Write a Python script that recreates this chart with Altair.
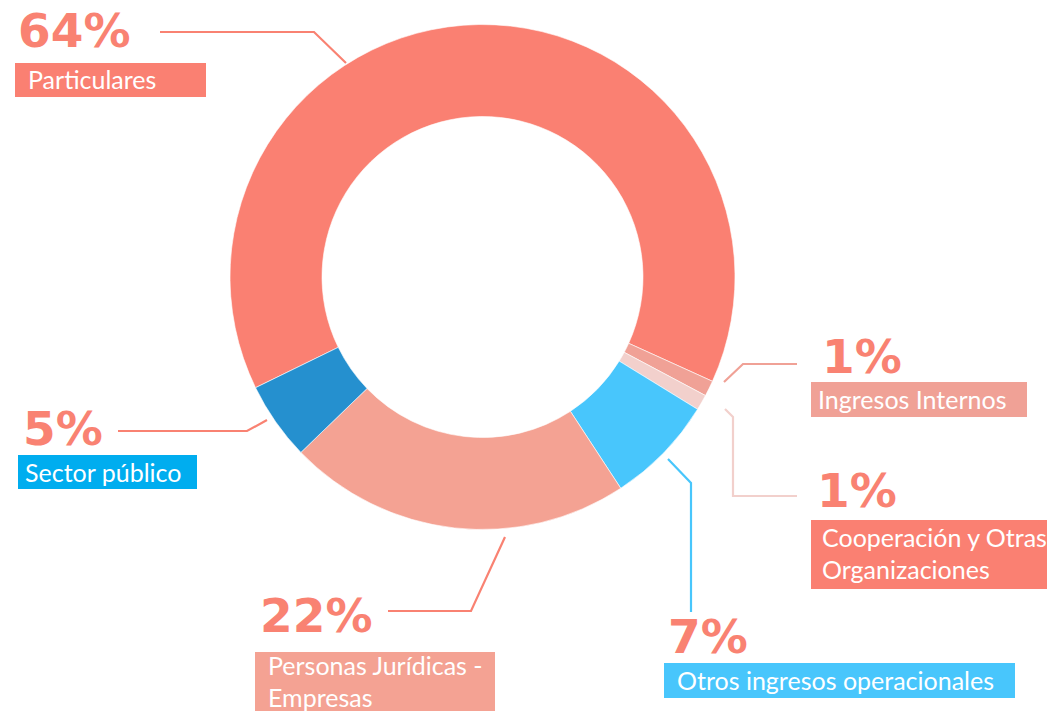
import math
import altair as alt
import pandas as pd

# ---- data ----
categories = [
    "Particulares",
    "Ingresos Internos",
    "Cooperación y Otras Organizaciones",
    "Otros ingresos operacionales",
    "Personas Jurídicas - Empresas",
    "Sector público",
]
shares = [64, 1, 1, 7, 22, 5]
box_text = [
    "Particulares",
    "Ingresos Internos",
    "Cooperación y Otras\nOrganizaciones",
    "Otros ingresos operacionales",
    "Personas Jurídicas -\nEmpresas",
    "Sector público",
]

# ---- styles ----
slice_colors = ["#FA8072", "#F0A196", "#F2D0CC", "#48C6FC", "#F4A293", "#2590CF"]
box_colors = ["#FA8072", "#F0A196", "#FA8072", "#48C6FC", "#F4A293", "#00ADEF"]
leader_colors = ["#F98272", "#F0A196", "#F2D0CC", "#48C6FC", "#F98272", "#F98272"]
pct_color = "#F98272"

# ---- layout (page pixels of the reference; shifted by the 8px margin) ----
OFF = 8
center = (482.5, 277)
r_out, r_in = 252.5, 160.5
start_deg = 244.0
pct_pos = [(18, 47), (822, 373), (817, 507), (668, 653), (260, 632), (23, 445)]
box_pos = [(15, 206, 63, 97), (811, 1027, 382, 417), (811, 1055, 520, 589),
           (664, 1015, 663, 698), (255, 495, 652, 719), (18, 197, 455, 489)]
box_txt_pos = [(28, 89), (818, 409), (822, 547), (677, 690), (268, 675), (25, 482)]
leaders = [
    [(160, 32), (314, 32), (346, 63)],
    [(724, 382), (743, 364), (797, 364)],
    [(725, 409), (733, 417), (733, 496), (797, 496)],
    [(668, 459), (691, 483), (691, 612)],
    [(388, 611), (471, 611), (505, 537)],
    [(118, 431), (247, 431), (267, 420)],
]

W, H = 1039, 703
FONT = "Lato"
PCT_FONT = "DejaVu Sans"

slices = pd.DataFrame({
    "category": categories,
    "share": shares,
    "idx": list(range(len(categories))),
    "color": slice_colors,
})

s = math.radians(start_deg)
donut = alt.Chart(slices).mark_arc(
    radius=r_out, radius2=r_in, stroke="white", strokeWidth=0.6
).encode(
    theta=alt.Theta("share:Q", stack=True, scale=alt.Scale(range=[s, s + 2 * math.pi])),
    order=alt.Order("idx:Q"),
    color=alt.Color("color:N", scale=None),
    x=alt.value(center[0] - OFF),
    y=alt.value(center[1] - OFF),
)

pct_df = pd.DataFrame({
    "x": [p[0] - OFF for p in pct_pos],
    "y": [p[1] - OFF for p in pct_pos],
    "text": [f"{v}%" for v in shares],
})
pct = alt.Chart(pct_df).mark_text(
    align="left", baseline="alphabetic", font=PCT_FONT, fontWeight="bold",
    fontSize=47, color=pct_color
).encode(
    x=alt.X("x:Q", scale=None, axis=None),
    y=alt.Y("y:Q", scale=None, axis=None),
    text="text:N",
)

box_df = pd.DataFrame({
    "x": [b[0] - OFF for b in box_pos],
    "x2": [b[1] - OFF for b in box_pos],
    "y": [b[2] - OFF for b in box_pos],
    "y2": [b[3] - OFF for b in box_pos],
    "color": box_colors,
})
boxes = alt.Chart(box_df).mark_rect().encode(
    x=alt.X("x:Q", scale=None, axis=None),
    x2="x2:Q",
    y=alt.Y("y:Q", scale=None, axis=None),
    y2="y2:Q",
    color=alt.Color("color:N", scale=None),
)

bt_df = pd.DataFrame({
    "x": [p[0] - OFF for p in box_txt_pos],
    "y": [p[1] - OFF for p in box_txt_pos],
    "text": box_text,
})
btext = alt.Chart(bt_df).mark_text(
    align="left", baseline="alphabetic", font=FONT, fontSize=25,
    color="white", lineBreak="\n", lineHeight=32
).encode(
    x=alt.X("x:Q", scale=None, axis=None),
    y=alt.Y("y:Q", scale=None, axis=None),
    text="text:N",
)

rows = []
for i, pts in enumerate(leaders):
    for k, (px, py) in enumerate(pts):
        rows.append({"cat": categories[i], "k": k, "x": px - OFF, "y": py - OFF,
                     "color": leader_colors[i]})
lead_df = pd.DataFrame(rows)
lines = alt.Chart(lead_df).mark_line(strokeWidth=2.2, strokeJoin="miter").encode(
    x=alt.X("x:Q", scale=None, axis=None),
    y=alt.Y("y:Q", scale=None, axis=None),
    detail="cat:N",
    order="k:Q",
    color=alt.Color("color:N", scale=None),
)

chart = alt.layer(donut, lines, boxes, pct, btext).resolve_scale(
    color="independent"
).properties(
    width=W, height=H, padding=0, autosize=alt.AutoSizeParams(type="none"),
    background="white",
).configure_view(stroke=None)

chart.save("out.html", embed_options={"renderer": "svg", "actions": False})
